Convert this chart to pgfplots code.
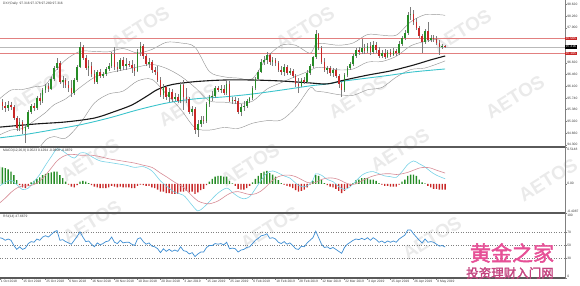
\documentclass[border=0pt]{standalone}
\usepackage{fontspec}
\setmainfont{Liberation Sans}
\newfontfamily\cjk[FakeBold=2]{Noto Sans CJK SC}
\usepackage{pgfplots}
\pgfplotsset{compat=1.18}
\usepackage{pgfplotstable}

\definecolor{upc}{RGB}{38,140,38}
\definecolor{dnc}{RGB}{200,40,40}
\definecolor{wickc}{RGB}{125,125,125}
\definecolor{bandc}{RGB}{150,150,150}
\definecolor{maBlack}{RGB}{25,25,25}
\definecolor{maCyan}{RGB}{60,196,204}
\definecolor{lvl}{RGB}{226,128,128}
\definecolor{macdc}{RGB}{120,210,230}
\definecolor{sigc}{RGB}{215,140,150}
\definecolor{rsic}{RGB}{60,140,210}
\definecolor{wm}{RGB}{234,234,234}
\definecolor{stamp}{RGB}{230,80,150}
\definecolor{sep}{RGB}{90,90,90}
\definecolor{lab}{RGB}{60,60,60}
\newcommand\tf{\fontsize{3.3}{3.8}\selectfont}

\pgfplotstableread{
x o h l c
-5 95.43 95.64 95.34 95.52
-1 94.81 95.12 94.72 95.00
1 94.72 94.94 94.35 94.84
2 94.84 95.37 94.78 95.31
3 95.31 95.55 95.24 95.49
5 95.43 95.80 95.37 95.74
7 95.64 96.04 95.58 95.98
8 95.98 96.17 95.89 96.11
10 96.01 96.38 95.98 96.32
11 96.32 96.72 96.26 96.66
12 96.66 96.97 96.60 96.81
14 96.23 96.41 96.04 96.29
18 95.89 96.35 95.83 96.29
19 96.29 96.75 96.23 96.69
20 96.69 97.46 96.66 97.31
23 96.66 96.91 96.41 96.72
26 96.23 96.60 96.17 96.54
28 96.41 96.54 96.35 96.48
29 96.48 96.69 96.41 96.63
30 96.63 96.81 96.57 96.72
31 96.72 97.15 96.66 97.09
34 96.63 96.97 96.57 96.91
36 96.72 96.97 96.60 96.78
40 96.57 97.24 96.54 97.15
41 97.15 97.46 97.03 97.34
44 96.78 96.97 96.66 96.84
49 95.83 96.17 95.71 96.08
51 95.77 96.04 95.61 95.92
53 95.71 95.89 95.64 95.77
55 95.64 96.23 95.58 96.14
59 95.31 95.49 95.18 95.40
61 94.75 95.06 94.54 94.94
62 94.94 95.18 94.84 95.06
64 95.03 95.61 94.97 95.55
65 95.55 95.83 95.46 95.77
66 95.77 95.95 95.64 95.80
67 95.80 96.11 95.74 96.04
69 95.98 96.14 95.89 96.01
71 95.89 96.29 95.83 96.17
73 95.64 95.77 95.55 95.68
76 95.31 95.55 95.18 95.46
77 95.46 95.64 95.34 95.49
78 95.49 95.71 95.43 95.64
79 95.64 95.77 95.58 95.74
80 95.74 96.11 95.68 96.04
81 96.04 96.38 95.98 96.32
82 96.32 96.60 96.26 96.54
83 96.54 96.94 96.51 96.84
84 96.84 97.03 96.75 96.91
85 96.91 97.15 96.78 97.06
87 96.84 97.00 96.72 96.91
91 96.54 96.78 96.41 96.69
93 96.51 96.66 96.44 96.57
97 96.11 96.35 96.08 96.29
99 96.23 96.60 96.20 96.51
100 96.51 96.78 96.44 96.72
101 96.72 97.03 96.66 97.00
102 97.00 97.83 96.94 97.71
106 96.60 96.72 96.48 96.66
108 96.51 96.66 96.38 96.60
112 95.98 96.51 95.92 96.44
113 96.44 96.72 96.38 96.66
114 96.66 96.84 96.60 96.78
115 96.78 97.09 96.72 97.03
116 97.03 97.28 96.97 97.21
118 97.15 97.55 97.09 97.28
120 97.18 97.43 97.12 97.34
122 97.15 97.49 97.09 97.37
125 97.03 97.21 96.97 97.12
127 97.00 97.21 96.97 97.15
129 97.06 97.28 97.03 97.18
131 97.12 97.49 97.06 97.40
132 97.40 97.64 97.34 97.58
133 97.58 97.83 97.52 97.74
134 97.74 98.38 97.68 98.29
135 98.29 98.54 98.14 98.32
140 97.46 97.86 97.40 97.80
142 97.52 97.68 97.46 97.58
146 97.31 97.40 97.24 97.34
}\upTab

\pgfplotstableread{
x o h l c
-7 95.61 95.71 95.37 95.49
-6 95.49 95.61 95.31 95.43
-4 95.52 95.61 95.37 95.46
-3 95.46 95.52 95.06 95.12
-2 95.12 95.18 94.72 94.81
0 95.00 95.06 94.63 94.75
4 95.49 95.58 95.34 95.43
6 95.74 95.89 95.52 95.64
9 96.11 96.20 95.92 96.01
13 96.81 96.88 96.17 96.23
15 96.29 96.35 96.04 96.14
16 96.14 96.26 95.92 96.04
17 96.04 96.29 95.77 95.89
21 97.31 97.37 96.91 96.97
22 96.97 97.06 96.60 96.66
24 96.72 96.84 96.38 96.48
25 96.48 96.60 96.17 96.23
27 96.54 96.63 96.35 96.41
32 97.09 97.31 96.60 96.69
33 96.69 96.84 96.54 96.63
35 96.91 97.00 96.60 96.72
37 96.78 96.88 96.69 96.76
38 96.76 96.91 96.51 96.66
39 96.66 96.78 96.41 96.57
42 97.34 97.40 96.94 97.03
43 97.03 97.09 96.72 96.78
45 96.84 96.91 96.51 96.60
46 96.60 96.69 96.44 96.54
47 96.54 96.72 96.23 96.29
48 96.29 96.38 95.77 95.83
50 96.08 96.14 95.68 95.77
52 95.92 96.01 95.61 95.71
54 95.77 95.86 95.58 95.64
56 96.14 96.29 95.37 95.77
57 95.77 96.04 95.58 95.71
58 95.71 95.77 95.24 95.31
60 95.40 95.46 94.63 94.75
63 95.06 95.18 94.94 95.03
68 96.04 96.11 95.92 95.98
70 96.01 96.14 95.83 95.89
72 96.17 96.26 95.61 95.64
74 95.68 95.77 95.55 95.64
75 95.64 95.74 95.24 95.31
86 97.06 97.12 96.75 96.84
88 96.91 96.97 96.72 96.81
89 96.81 96.88 96.54 96.60
90 96.60 96.72 96.44 96.54
92 96.69 96.75 96.44 96.51
94 96.57 96.63 96.35 96.41
95 96.41 96.48 96.08 96.17
96 96.17 96.35 95.89 96.11
98 96.29 96.38 96.17 96.23
103 97.71 97.74 97.21 97.28
104 97.28 97.34 96.78 96.84
105 96.84 96.97 96.54 96.60
107 96.66 96.72 96.41 96.51
109 96.60 96.66 96.35 96.41
110 96.41 96.48 96.04 96.17
111 96.17 96.23 95.77 95.98
117 97.21 97.31 97.06 97.15
119 97.28 97.40 97.09 97.18
121 97.34 97.46 97.06 97.15
123 97.37 97.46 97.12 97.21
124 97.21 97.31 96.97 97.03
126 97.12 97.24 96.94 97.00
128 97.15 97.24 97.00 97.06
130 97.18 97.24 97.03 97.12
136 98.32 98.44 97.98 98.08
137 98.08 98.20 97.83 97.89
138 97.89 97.95 97.58 97.64
139 97.64 97.71 97.12 97.46
141 97.80 98.08 97.46 97.52
143 97.58 97.68 97.46 97.56
144 97.56 97.64 97.37 97.43
145 97.43 97.52 97.06 97.31
147 97.33 97.378 97.280 97.316
}\dnTab

\pgfplotstableread{
x up mid lo
-8 95.71 94.60 93.49
-4 95.98 94.75 93.52
0 96.00 94.80 93.60
4 96.08 95.03 93.98
8 96.14 95.29 94.44
11 96.52 95.53 94.55
15 96.91 95.71 94.50
20 97.17 96.06 94.95
25 97.17 96.37 95.58
30 97.16 96.51 95.86
35 97.26 96.60 95.95
40 97.12 96.69 96.26
45 97.23 96.77 96.31
50 97.45 96.65 95.86
55 97.43 96.41 95.39
60 97.30 96.06 94.82
65 96.55 95.65 94.75
70 96.39 95.61 94.83
75 96.35 95.57 94.80
80 96.33 95.64 94.96
85 96.98 96.01 95.04
90 97.36 96.21 95.06
95 97.36 96.40 95.44
100 97.11 96.58 96.05
102 97.39 96.67 95.95
105 97.41 96.67 95.92
110 97.36 96.60 95.84
115 97.43 96.63 95.82
120 97.69 96.84 95.99
125 97.67 96.86 96.06
130 97.67 97.02 96.38
135 98.08 97.34 96.61
140 98.30 97.48 96.66
145 98.30 97.56 96.81
147 98.28 97.58 96.88
}\bbTab

\tikzset{edgelab/.style={font=\tf, text=lab, inner sep=0.6pt, xshift=1.5pt}}
\pgfplotsset{
  panel/.style={
    scale only axis, width=565pt, xmin=-7.83, xmax=188.69,
    anchor=south west,
    axis x line*=bottom, axis y line*=right,
    x axis line style={draw=sep, line width=1.1pt},
    y axis line style={draw=gray, line width=0.5pt},
    xtick=\empty,
    tick align=outside,
    major tick length=1.5pt,
    tick style={draw=gray, line width=0.35pt},
    yticklabel style={font=\tf, text=lab, inner sep=0.6pt},
    clip mode=individual,
  },
}

\begin{document}
\begin{tikzpicture}
\useasboundingbox (0,0) rectangle (580pt,285pt);
% watermarks
\foreach \wx/\wy in {140/28,305/28,462/31,40/90,188/105,358/97,515/97,90/160,250/165,400/150,548/180,92/222,270/228,432/238}{
  \node[rotate=32, text=wm, font=\bfseries\fontsize{19}{19}\selectfont] at (\wx pt,{285pt-\wy pt}) {AETOS};
}

% ---------------- main price panel ----------------
\begin{axis}[panel, at={(0pt,138pt)}, height=147pt, ymin=94.229, ymax=98.752,
  ytick={94.30,94.66,95.02,95.38,95.74,96.10,96.46,96.82,97.90,98.26,98.62},
  yticklabels={94.300,94.660,95.020,95.380,95.740,96.100,96.460,96.820,97.900,98.260,98.620}]
\addplot[bandc, line width=0.45pt, smooth] table[x=x,y=up] {\bbTab};
\addplot[bandc, line width=0.45pt, smooth] table[x=x,y=mid] {\bbTab};
\addplot[bandc, line width=0.45pt, smooth] table[x=x,y=lo] {\bbTab};
\addplot[maCyan, line width=0.9pt, smooth] coordinates {
(-8,94.51) (0,94.60) (10,94.75) (20,94.91) (30,95.12) (40,95.37) (50,95.58) (60,95.71) (70,95.77) (80,95.86) (90,95.98) (100,96.11) (106,96.17) (112,96.26) (120,96.35) (128,96.44) (136,96.54) (147,96.63)};
\addplot[maBlack, line width=1.1pt, smooth] coordinates {
(-8,94.84) (5,94.94) (15,95.00) (25,95.12) (32,95.32) (38,95.52) (43,95.78) (47,96.00) (52,96.15) (60,96.24) (70,96.29) (80,96.29) (90,96.26) (100,96.20) (106,96.17) (112,96.29) (120,96.44) (128,96.57) (136,96.75) (142,96.91) (147,97.03)};
\addplot[lvl, line width=1.2pt] coordinates {(-7.83,97.565) (188.69,97.565)};
\addplot[lvl, line width=1.2pt] coordinates {(-7.83,97.105) (188.69,97.105)};
\addplot[gray!55, line width=0.3pt] coordinates {(-7.83,97.316) (188.69,97.316)};
% wicks
\addplot[draw=wickc, line width=0.45pt, quiver={u=0, v=\thisrow{h}-\thisrow{l}}] table[x=x,y=l] {\upTab};
\addplot[draw=wickc, line width=0.45pt, quiver={u=0, v=\thisrow{h}-\thisrow{l}}] table[x=x,y=l] {\dnTab};
% bodies
\addplot[draw=upc, line width=1.7pt, quiver={u=0, v=\thisrow{c}-\thisrow{o}}] table[x=x,y=o] {\upTab};
\addplot[draw=dnc, line width=1.7pt, quiver={u=0, v=\thisrow{c}-\thisrow{o}}] table[x=x,y=o] {\dnTab};
\node[fill=dnc, text=white, font=\tf, inner sep=0.7pt, anchor=west] at (axis cs:188.69,97.565) {97.565};
\node[fill=black, text=white, font=\tf, inner sep=0.7pt, anchor=west] at (axis cs:188.69,97.316) {97.316};
\node[fill=dnc, text=white, font=\tf, inner sep=0.7pt, anchor=west] at (axis cs:188.69,97.105) {97.105};
\end{axis}

% ---------------- MACD panel ----------------
\begin{axis}[panel, at={(0pt,72pt)}, height=66pt, ymin=-0.4087, ymax=0.5148,
  ytick={-0.4087,0,0.5148}, yticklabels={,0.00,}]
\addplot[ybar, bar width=1.3pt, bar shift=0pt, fill=upc, draw=none] coordinates {
(-8,0.24) (-7,0.23) (-6,0.22) (-5,0.20) (-4,0.17) (-3,0.12) (-2,0.05) (3,0.02) (4,0.04) (5,0.07) (6,0.09) (7,0.12) (8,0.14) (9,0.15) (10,0.16) (11,0.17) (12,0.17) (13,0.12) (14,0.08) (15,0.03) (20,0.03) (21,0.04) (22,0.03) (23,0.01) (65,0.03) (66,0.07) (67,0.10) (68,0.11) (69,0.11) (70,0.10) (71,0.10) (72,0.04) (73,0.005) (80,0.02) (81,0.07) (82,0.11) (83,0.15) (84,0.17) (85,0.18) (86,0.15) (87,0.13) (88,0.10) (89,0.05) (90,0.01) (101,0.04) (102,0.12) (103,0.11) (104,0.06) (105,0.01) (115,0.01) (116,0.05) (117,0.06) (118,0.08) (119,0.08) (120,0.08) (121,0.06) (122,0.06) (123,0.04) (124,0.01) (132,0.03) (133,0.06) (134,0.11) (135,0.13) (136,0.13) (137,0.11) (138,0.06) (139,0.02) (140,0.005)};
\addplot[ybar, bar width=1.3pt, bar shift=0pt, fill=dnc, draw=none] coordinates {
(-1,-0.02) (0,-0.05) (1,-0.06) (2,-0.03) (16,-0.01) (17,-0.04) (18,-0.05) (19,-0.02) (24,-0.02) (25,-0.04) (26,-0.05) (27,-0.06) (28,-0.06) (29,-0.06) (30,-0.05) (31,-0.03) (32,-0.04) (33,-0.05) (34,-0.04) (35,-0.05) (36,-0.05) (37,-0.05) (38,-0.06) (39,-0.06) (40,-0.03) (41,-0.01) (42,-0.02) (43,-0.03) (44,-0.03) (45,-0.05) (46,-0.06) (47,-0.08) (48,-0.11) (49,-0.11) (50,-0.13) (51,-0.13) (52,-0.14) (53,-0.14) (54,-0.14) (55,-0.11) (56,-0.11) (57,-0.10) (58,-0.12) (59,-0.11) (60,-0.14) (61,-0.12) (62,-0.09) (63,-0.07) (64,-0.02) (74,-0.03) (75,-0.07) (76,-0.08) (77,-0.08) (78,-0.06) (79,-0.03) (91,-0.01) (92,-0.03) (93,-0.04) (94,-0.06) (95,-0.09) (96,-0.11) (97,-0.10) (98,-0.08) (99,-0.05) (100,-0.01) (106,-0.02) (107,-0.04) (108,-0.05) (109,-0.07) (110,-0.10) (111,-0.13) (112,-0.10) (113,-0.06) (114,-0.03) (125,-0.01) (126,-0.03) (127,-0.03) (128,-0.04) (129,-0.04) (130,-0.04) (131,-0.01) (141,-0.03) (142,-0.05) (143,-0.07) (144,-0.07) (145,-0.08) (146,-0.08) (147,-0.08)};
\addplot[macdc, line width=0.6pt, smooth] coordinates {
(-8,-0.03) (-6,0.02) (-4,0.05) (-2,-0.01) (0,-0.08) (2,-0.06) (4,0.03) (6,0.13) (8,0.26) (10,0.38) (12,0.49) (14,0.46) (16,0.40) (18,0.36) (20,0.43) (22,0.43) (24,0.38) (27,0.32) (30,0.30) (33,0.28) (36,0.26) (39,0.23) (42,0.24) (45,0.18) (48,0.04) (50,-0.03) (53,-0.12) (56,-0.16) (59,-0.30) (61,-0.38) (63,-0.33) (65,-0.25) (68,-0.13) (71,-0.06) (73,-0.12) (75,-0.18) (77,-0.21) (79,-0.18) (81,-0.07) (83,0.05) (85,0.15) (87,0.18) (89,0.15) (91,0.11) (93,0.08) (95,0.01) (97,-0.04) (99,-0.03) (101,0.05) (102,0.14) (104,0.12) (106,0.06) (108,0.03) (110,-0.04) (112,-0.08) (114,-0.04) (116,0.04) (118,0.12) (120,0.16) (122,0.17) (124,0.14) (126,0.11) (128,0.10) (130,0.09) (132,0.17) (134,0.27) (136,0.32) (138,0.28) (140,0.235) (142,0.17) (144,0.12) (147,0.07)};
\addplot[sigc, line width=0.6pt, smooth] coordinates {
(-8,-0.27) (-6,-0.20) (-4,-0.12) (-2,-0.06) (0,-0.03) (2,-0.03) (4,-0.01) (6,0.04) (8,0.12) (10,0.22) (12,0.32) (14,0.38) (16,0.41) (18,0.41) (20,0.40) (22,0.40) (24,0.40) (27,0.38) (30,0.35) (33,0.33) (36,0.31) (39,0.29) (42,0.26) (45,0.23) (48,0.15) (50,0.10) (53,0.02) (56,-0.05) (59,-0.17) (61,-0.24) (63,-0.27) (65,-0.28) (68,-0.24) (71,-0.16) (73,-0.12) (75,-0.11) (77,-0.13) (79,-0.15) (81,-0.14) (83,-0.10) (85,-0.03) (87,0.05) (89,0.10) (91,0.12) (93,0.12) (95,0.10) (97,0.06) (99,0.02) (101,0.01) (102,0.02) (104,0.06) (106,0.08) (108,0.08) (110,0.06) (112,0.02) (114,-0.01) (116,0.00) (118,0.04) (120,0.08) (122,0.11) (124,0.13) (126,0.14) (128,0.14) (130,0.13) (132,0.14) (134,0.16) (136,0.19) (138,0.22) (140,0.23) (142,0.22) (144,0.19) (147,0.15)};
\node[edgelab, anchor=north west] at (axis cs:188.69,0.5148) {0.5148};
\node[edgelab, anchor=south west] at (axis cs:188.69,-0.4087) {-0.4087};
\end{axis}

% ---------------- RSI panel ----------------
\begin{axis}[panel, at={(0pt,7pt)}, height=65pt, ymin=0, ymax=100,
  ytick={0,30,50,70,100}, yticklabels={,30,50,70,},
  xtick={-7.8,0,8,16,24,32,40,48,56,64,72,80,88,96,104,112,120,128,136,144},
  xticklabels={1 Oct 2018,15 Oct 2018,25 Oct 2018,6 Nov 2018,16 Nov 2018,28 Nov 2018,10 Dec 2018,20 Dec 2018,3 Jan 2019,15 Jan 2019,25 Jan 2019,6 Feb 2019,18 Feb 2019,28 Feb 2019,12 Mar 2019,22 Mar 2019,3 Apr 2019,15 Apr 2019,26 Apr 2019,8 May 2019},
  xticklabel style={font=\tf, text=lab, anchor=north west, inner sep=0.6pt}]
\addplot[gray, dotted, line width=0.45pt] coordinates {(-7.83,70) (188.69,70)};
\addplot[gray, dotted, line width=0.45pt] coordinates {(-7.83,50) (188.69,50)};
\addplot[gray, dotted, line width=0.45pt] coordinates {(-7.83,30) (188.69,30)};
\addplot[rsic, line width=0.7pt] coordinates {
(-8,62) (-7,61) (-6,58) (-5,60) (-4,58) (-3,50) (-2,44) (-1,48) (0,44) (1,46) (2,53) (3,56) (4,55) (5,60) (6,58) (7,63) (8,65) (9,63) (10,67) (11,71) (12,73) (13,58) (14,59) (15,56) (16,54) (17,52) (18,58) (19,64) (20,71) (21,63) (22,56) (23,57) (24,52) (25,48) (26,54) (27,51) (28,53) (29,56) (30,57) (31,63) (32,55) (33,53) (34,58) (35,54) (36,55) (37,55) (38,52) (39,50) (40,60) (41,62) (42,56) (43,52) (44,54) (45,49) (46,48) (47,45) (48,39) (49,45) (50,41) (51,44) (52,41) (53,43) (54,41) (55,48) (56,42) (57,41) (58,37) (59,39) (60,33) (61,37) (62,40) (63,40) (64,47) (65,50) (66,50) (67,53) (68,52) (69,53) (70,51) (71,55) (72,45) (73,46) (74,45) (75,40) (76,43) (77,44) (78,47) (79,48) (80,53) (81,58) (82,61) (83,65) (84,66) (85,68) (86,61) (87,62) (88,60) (89,55) (90,53) (91,56) (92,52) (93,54) (94,50) (95,45) (96,44) (97,49) (98,48) (99,54) (100,58) (101,62) (102,72) (103,62) (104,52) (105,47) (106,48) (107,45) (108,47) (109,44) (110,41) (111,38) (112,47) (113,52) (114,55) (115,58) (116,60) (117,59) (118,61) (119,59) (120,62) (121,58) (122,62) (123,59) (124,55) (125,57) (126,54) (127,57) (128,55) (129,57) (130,55) (131,60) (132,63) (133,66) (134,74) (135,74) (136,68) (137,63) (138,58) (139,54) (140,60) (141,55) (142,56) (143,55) (144,52) (145,49) (146,50) (147,47.67)};
\node[edgelab, anchor=north west] at (axis cs:188.69,100) {100};
\node[edgelab, anchor=south west] at (axis cs:188.69,0) {0};
\end{axis}

% headers
\node[anchor=west, font=\tf, text=lab, inner sep=0pt] at (3pt,281.5pt) {DXY,Daily\ \ 97.316 97.378 97.280 97.316};
\node[anchor=west, font=\tf, text=lab, inner sep=0pt] at (3pt,134pt) {MACD(12,26,9) 0.0523 0.1294 -0.0808 -0.0879};
\node[anchor=west, font=\tf, text=lab, inner sep=0pt] at (3pt,68.5pt) {RSI(14) 47.6679};

% stamp
\node[text=stamp, font=\cjk\fontsize{21}{21}\selectfont, inner sep=0pt] at (512pt,32pt) {黄金之家};
\node[text=stamp!85!black, font=\cjk\fontsize{12.5}{12.5}\selectfont, inner sep=0pt] at (510pt,12pt) {投资理财入门网};
\end{tikzpicture}
\end{document}
